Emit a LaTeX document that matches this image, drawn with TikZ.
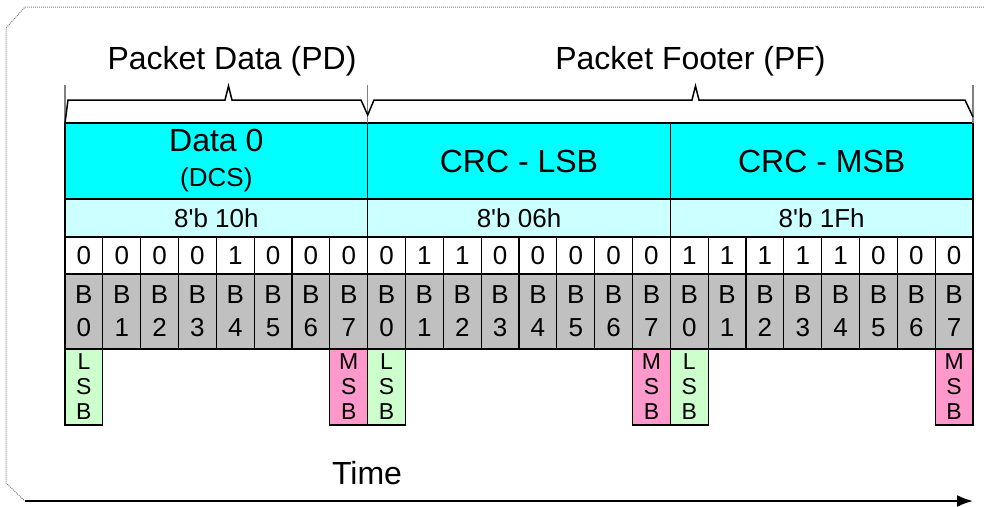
\documentclass[tikz,border=0pt]{standalone}
\usepackage{fontspec}
\setmainfont{Liberation Sans}[Ligatures=TeXOff]
\usetikzlibrary{arrows.meta,positioning}
\definecolor{hdcyan}{HTML}{00FFFF}
\definecolor{valcyan}{HTML}{CCFFFF}
\definecolor{bitgray}{HTML}{C0C0C0}
\definecolor{lsbgreen}{HTML}{CCFFCC}
\definecolor{msbpink}{HTML}{FF99CC}

\begin{document}
\begin{tikzpicture}[x=1pt, y=-1pt,
    cell/.style={draw, line width=1.2pt, inner sep=0pt, outer sep=0pt, minimum width=37.83pt},
    hdr/.style={cell, fill=hdcyan, minimum width=302.67pt, minimum height=76pt, align=center, font=\fontsize{32}{38}\selectfont},
    val/.style={cell, fill=valcyan, minimum width=302.67pt, minimum height=38pt, font=\fontsize{26}{30}\selectfont},
    bit/.style={cell, fill=white, minimum height=37pt, font=\fontsize{26}{30}\selectfont},
    bname/.style={cell, fill=bitgray, minimum height=75pt, align=center, font=\fontsize{26}{33}\selectfont},
    lsb/.style={cell, fill=lsbgreen, minimum height=76pt, align=center, font=\fontsize{23}{25}\selectfont},
    msb/.style={lsb, fill=msbpink},
    title/.style={anchor=base, font=\fontsize{32}{38}\selectfont},
    brace/.style={line width=1.5pt, line join=miter},
    tick/.style={gray, line width=1.2pt},
    timearr/.style={-{Latex[length=16pt, width=12pt]}, line width=2pt}
]
\useasboundingbox (0,0) rectangle (984,506);

% outer frame
\draw[gray, densely dotted, line width=1pt] (984,7) -- (25,7) -- (6,28) -- (6,483) -- (25,501);

% byte headers and values
\node[hdr] (hd0) at (216.33,161) {\raisebox{-3pt}{Data 0}\\{\fontsize{26}{38}\selectfont (DCS)}};
\node[hdr] (hd1) at (519,161) {CRC - LSB};
\node[hdr] (hd2) at (821.67,161) {CRC - MSB};
\node[val, below=0pt of hd0] (vl0) {8'b 10h};
\node[val, below=0pt of hd1] (vl1) {8'b 06h};
\node[val, below=0pt of hd2] (vl2) {8'b 1Fh};

% bits, LSB first
\foreach \v [count=\i from 0] in {0,0,0,0,1,0,0,0,0,1,1,0,0,0,0,0,1,1,1,1,1,0,0,0}{
  \pgfmathtruncatemacro\k{mod(\i,8)}
  \node[bit] (v\i) at ({65+37.833*(\i+0.5)},255.5) {\v};
  \node[bname, below=0pt of v\i] (b\i) {B\\\k};
}

\node[lsb, below=0pt of b0] (l0) {L\\S\\B};
\node[msb, below=0pt of b7] (m0) {M\\S\\B};
\node[lsb, below=0pt of b8] (l1) {L\\S\\B};
\node[msb, below=0pt of b15] (m1) {M\\S\\B};
\node[lsb, below=0pt of b16] (l2) {L\\S\\B};
\node[msb, below=0pt of b23] (m2) {M\\S\\B};

% braces
\draw[tick] (65,85) -- (65,123);
\draw[tick] (367.7,85) -- (367.7,123);
\draw[tick] (973,85) -- (973,123);
\draw[brace] (65,123) -- (68,100) -- (225,100) -- (228.5,86) -- (232,100) -- (361,100)
  -- (367.7,115) -- (374,100) -- (692,100) -- (695.5,86) -- (699,100) -- (965,100) -- (973,117);
\node[title] (pd) at (232,69) {Packet Data (PD)};
\node[title] (pf) at (690.5,69) {Packet Footer (PF)};

% time axis
\node[title] (time) at (367,484) {Time};
\coordinate (t0) at (25,501);
\coordinate (t1) at (973,501);
\draw[timearr] (t0) -- (t1);
\end{tikzpicture}
\end{document}
